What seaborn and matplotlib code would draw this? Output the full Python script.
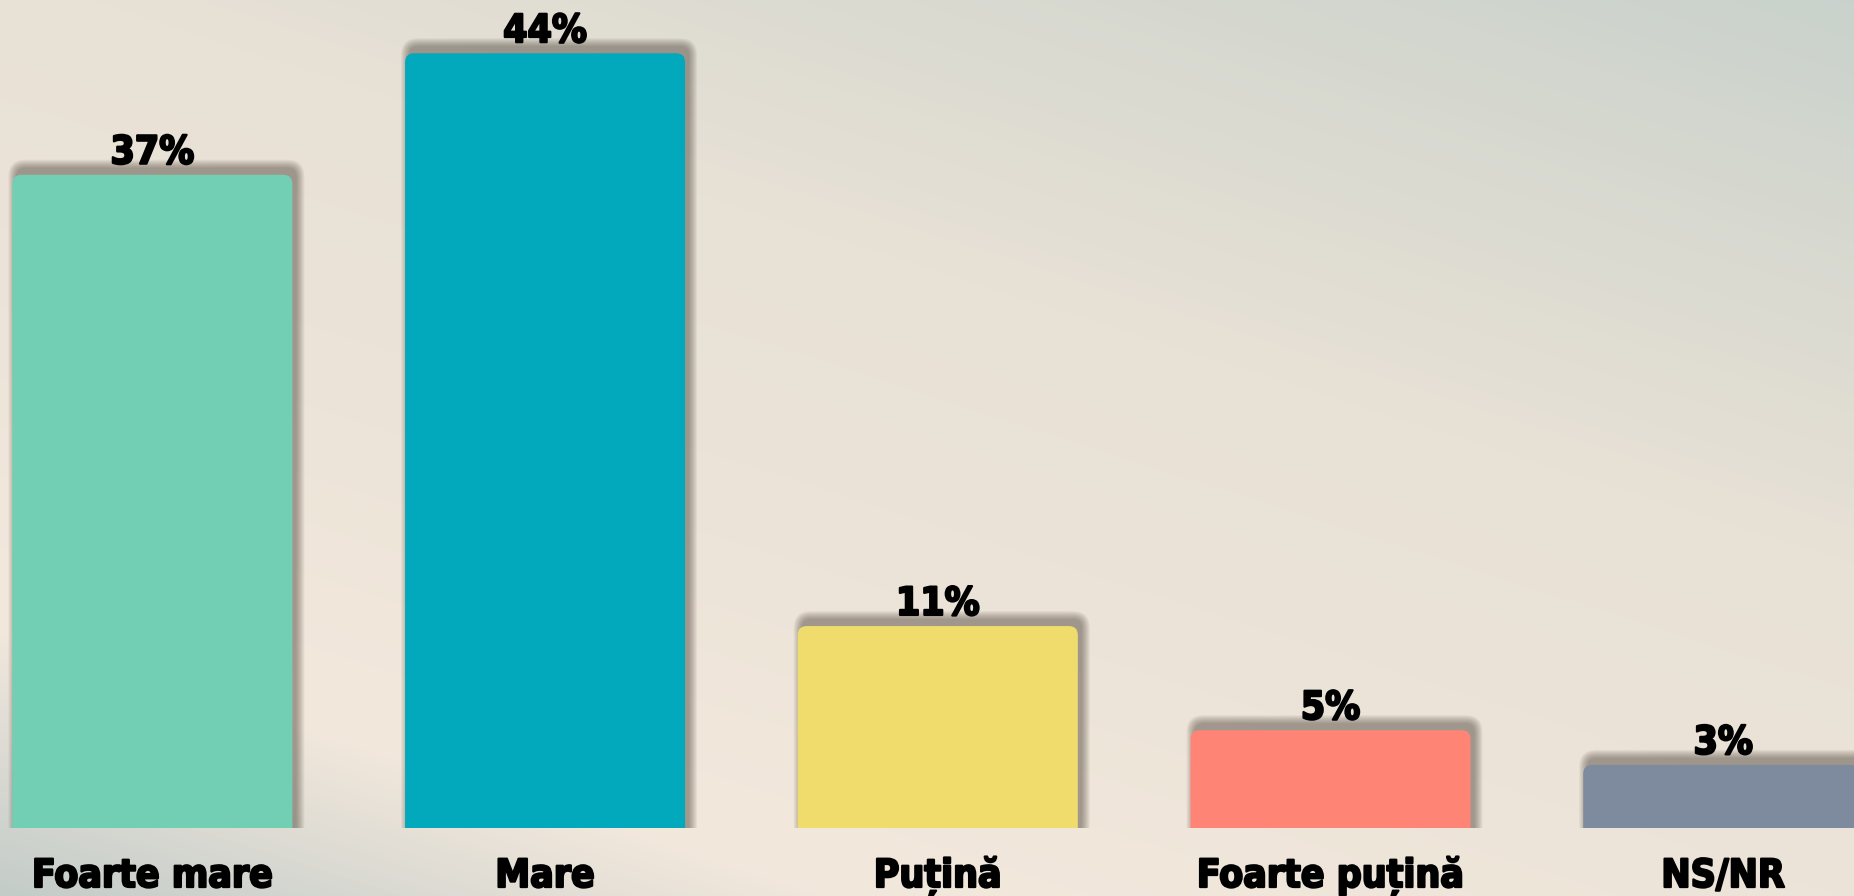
import numpy as np
import matplotlib
matplotlib.use("Agg")
import matplotlib.pyplot as plt
import matplotlib.transforms as mtransforms
import matplotlib.patheffects as pe
from matplotlib.patches import FancyBboxPatch
from matplotlib.colors import LinearSegmentedColormap
import seaborn as sns
import pandas as pd

# ---- data ----
categories = ["Foarte mare", "Mare", "Puțină", "Foarte puțină", "NS/NR"]
values = [37, 44, 11, 5, 3]
bar_colors = ["#72cfb4", "#02a8bc", "#f0dc6c", "#fe8576", "#7e8a9e"]

sns.set_theme(style="white")
FONT = ['DejaVu Sans Condensed', 'DejaVu Sans']
plt.rcParams['font.family'] = FONT

W, H = 1854, 896
fig = plt.figure(figsize=(W / 100, H / 100), dpi=100)

# ---- background gradient ----
bg = fig.add_axes([0, 0, 1, 1], zorder=0)
yy, xx = np.mgrid[0:H, 0:W]
proj = xx * 0.304 - yy * 0.953
t = (proj - proj.min()) / (proj.max() - proj.min())
cmap = LinearSegmentedColormap.from_list(
    "bg", [(0.0, "#c3ccc9"), (0.18, "#f3e8dc"), (0.45, "#ebe3d8"),
           (0.62, "#e8e1d6"), (0.85, "#d6d8cf"), (1.0, "#c9d2cc")])
bg.imshow(t, cmap=cmap, aspect="auto", extent=[0, 1, 0, 1], origin="upper",
          vmin=0, vmax=1, interpolation="bilinear")
bg.axis("off")

# ---- main axes ----
ax = fig.add_axes([0, 68 / H, 1, 828 / H], zorder=1)
ax.patch.set_alpha(0)
df = pd.DataFrame({"cat": categories, "val": values})
sns.barplot(data=df, x="cat", y="val", hue="cat", palette=bar_colors,
            width=0.713, legend=False, ax=ax, saturation=1)

ax.set_xlim(-0.388, 4.333)
ax.set_ylim(-0.634, 47.07)
sns.despine(ax=ax, left=True, bottom=True)
ax.set_xlabel("")
ax.set_ylabel("")
ax.set_yticks([])

px_x = 392.7
px_y = 17.357
ma = px_x / px_y
r = 9.0
shadow_tr = mtransforms.offset_copy(ax.transData, fig=fig, x=4, y=7, units="dots")
stroke = [pe.withStroke(linewidth=1.6, foreground="black")]

bars = list(ax.patches)
for p in bars:
    x0, w, h = p.get_x(), p.get_width(), p.get_height()
    fc = p.get_facecolor()
    p.set_visible(False)
    bottom = -2.0
    for s in range(0, 9):
        pad = s * 1.0
        sh = FancyBboxPatch((x0, bottom), w, h - bottom,
                            boxstyle=f"round,pad={pad / px_x},rounding_size={(r + pad) / px_x}",
                            mutation_aspect=ma, fc="#3f352a", ec="none", alpha=0.06,
                            transform=shadow_tr, zorder=2)
        ax.add_patch(sh)
    main = FancyBboxPatch((x0, bottom), w, h - bottom,
                          boxstyle=f"round,pad=0,rounding_size={r / px_x}",
                          mutation_aspect=ma, fc=fc, ec="none", zorder=3)
    ax.add_patch(main)
    ax.annotate(f"{h:.0f}%", (x0 + w / 2, h), xytext=(0, 8), textcoords="offset points",
                ha="center", va="baseline", fontsize=28, fontweight="bold",
                fontstretch="condensed", color="black", zorder=4, path_effects=stroke)

ax.tick_params(axis="x", length=0, pad=42.5, labelsize=28, labelcolor="black")
for lab in ax.get_xticklabels():
    lab.set_fontweight("bold")
    lab.set_fontstretch("condensed")
    lab.set_va("baseline")
    lab.set_path_effects(stroke)

fig.savefig("out.png", dpi=100)
